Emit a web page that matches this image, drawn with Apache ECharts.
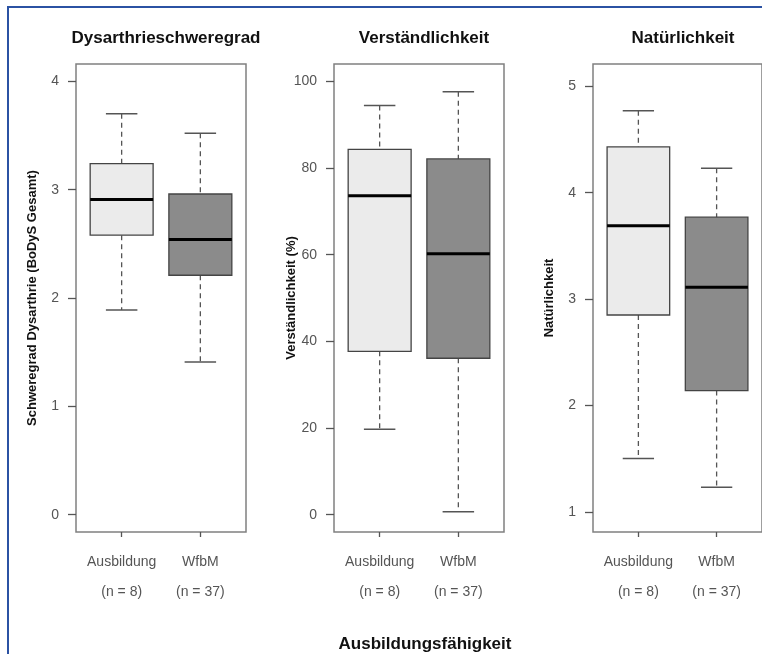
<!DOCTYPE html>
<html>
<head>
<meta charset="utf-8">
<script src="https://cdn.jsdelivr.net/npm/echarts@6/dist/echarts.min.js"></script>
<style>
html,body{margin:0;padding:0;background:#fff;}
#main{width:762px;height:654px;}
</style>
</head>
<body>
<div id="main"></div>
<script>
// ---- data ----
const categories = ['Ausbildung', 'WfbM'];
const groupSizes = ['(n = 8)', '(n = 37)'];
const panelTitles = ['Dysarthrieschweregrad', 'Verständlichkeit', 'Natürlichkeit'];
const yAxisTitles = ['Schweregrad Dysarthrie (BoDyS Gesamt)', 'Verständlichkeit (%)', 'Natürlichkeit'];
const xAxisTitle = 'Ausbildungsfähigkeit';
// [lower whisker, Q1, median, Q3, upper whisker]
const dysarthriaAusbildung = [1.89, 2.58, 2.91, 3.24, 3.70];
const dysarthriaWfbM = [1.41, 2.21, 2.54, 2.96, 3.52];
const verstAusbildung = [19.7, 37.7, 73.6, 84.3, 94.4];
const verstWfbM = [0.7, 36.1, 60.2, 82.1, 97.6];
const naturAusbildung = [1.50, 2.85, 3.69, 4.43, 4.77];
const naturWfbM = [1.23, 2.14, 3.11, 3.77, 4.23];
const ticks1 = [0, 1, 2, 3, 4];
const ticks2 = [0, 20, 40, 60, 80, 100];
const ticks3 = [1, 2, 3, 4, 5];

// ---- layout ----
const FONT = '"Liberation Sans", Arial, sans-serif';
const panels = [
  { left: 76, width: 170, ymin: -0.16, ymax: 4.16, ticks: ticks1, data: [dysarthriaAusbildung, dysarthriaWfbM], nameGap: 37 },
  { left: 334, width: 170, ymin: -4, ymax: 104, ticks: ticks2, data: [verstAusbildung, verstWfbM], nameGap: 36 },
  { left: 593, width: 170, ymin: 0.81, ymax: 5.21, ticks: ticks3, data: [naturAusbildung, naturWfbM], nameGap: 37 }
];
const TOP = 64, HEIGHT = 468;
const fills = ['#ebebeb', '#8b8b8b'];

function renderBox(params, api) {
  const x = api.value(0);
  const lo = api.coord([x, api.value(1)]);
  const q1 = api.coord([x, api.value(2)]);
  const md = api.coord([x, api.value(3)]);
  const q3 = api.coord([x, api.value(4)]);
  const hi = api.coord([x, api.value(5)]);
  const bw = api.size([0.8, 0])[0];
  const cw = api.size([0.4, 0])[0];
  const cx = lo[0];
  const dash = { stroke: '#555', lineWidth: 1.3, lineDash: [5, 4] };
  const solid = { stroke: '#555', lineWidth: 1.5 };
  return {
    type: 'group',
    children: [
      { type: 'line', shape: { x1: cx, y1: hi[1], x2: cx, y2: q3[1] }, style: dash },
      { type: 'line', shape: { x1: cx, y1: q1[1], x2: cx, y2: lo[1] }, style: dash },
      { type: 'line', shape: { x1: cx - cw / 2, y1: hi[1], x2: cx + cw / 2, y2: hi[1] }, style: solid },
      { type: 'line', shape: { x1: cx - cw / 2, y1: lo[1], x2: cx + cw / 2, y2: lo[1] }, style: solid },
      { type: 'rect', shape: { x: cx - bw / 2, y: q3[1], width: bw, height: q1[1] - q3[1] },
        style: { fill: fills[params.dataIndex], stroke: '#444', lineWidth: 1.3 } },
      { type: 'line', shape: { x1: cx - bw / 2, y1: md[1], x2: cx + bw / 2, y2: md[1] },
        style: { stroke: '#000', lineWidth: 3 } }
    ]
  };
}

const grid = [], xAxis = [], yAxis = [], series = [], title = [];
panels.forEach((p, i) => {
  grid.push({ left: p.left, top: TOP, width: p.width, height: HEIGHT, show: true,
    borderColor: '#808080', borderWidth: 1.5, backgroundColor: 'transparent' });
  xAxis.push({
    type: 'value', gridIndex: i, min: 0.42, max: 2.58, position: 'bottom',
    splitLine: { show: false }, axisLine: { show: false, onZero: false },
    axisTick: { show: true, customValues: [1, 2], length: 5, lineStyle: { color: '#555', width: 1.3 } },
    axisLabel: { customValues: [1, 2], margin: 15, lineHeight: 30, color: '#555', fontSize: 14, fontFamily: FONT,
      formatter: v => categories[v - 1] + '\n' + groupSizes[v - 1] }
  });
  yAxis.push({
    type: 'value', gridIndex: i, min: p.ymin, max: p.ymax, position: 'left',
    splitLine: { show: false }, axisLine: { show: false, onZero: false },
    axisTick: { show: true, customValues: p.ticks, length: 8, lineStyle: { color: '#555', width: 1.3 } },
    axisLabel: { customValues: p.ticks, margin: 17, color: '#555', fontSize: 14, fontFamily: FONT },
    name: yAxisTitles[i], nameLocation: 'middle', nameGap: p.nameGap, nameMoveOverlap: false,
    nameTextStyle: { fontWeight: 'bold', fontSize: 13, color: '#111', fontFamily: FONT }
  });
  series.push({
    type: 'custom', xAxisIndex: i, yAxisIndex: i, renderItem: renderBox,
    data: p.data.map((d, k) => [k + 1].concat(d)), clip: false
  });
  title.push({ text: panelTitles[i], left: p.left + p.width / 2, top: 25, textAlign: 'center',
    textStyle: { fontWeight: 'bold', fontSize: 17, color: '#111', fontFamily: FONT } });
});
title.push({ text: xAxisTitle, left: 420, top: 631, textAlign: 'center',
  textStyle: { fontWeight: 'bold', fontSize: 17, color: '#111', fontFamily: FONT } });

const chart = echarts.init(document.getElementById('main'), null, { renderer: 'canvas' });
chart.setOption({
  animation: false,
  backgroundColor: '#fff',
  title, grid, xAxis, yAxis, series,
  graphic: [
    { type: 'line', shape: { x1: 8, y1: 7, x2: 8, y2: 660 }, style: { stroke: '#2b52a3', lineWidth: 2 } },
    { type: 'line', shape: { x1: 7, y1: 7, x2: 770, y2: 7 }, style: { stroke: '#2b52a3', lineWidth: 2 } }
  ]
});
</script>
</body>
</html>
